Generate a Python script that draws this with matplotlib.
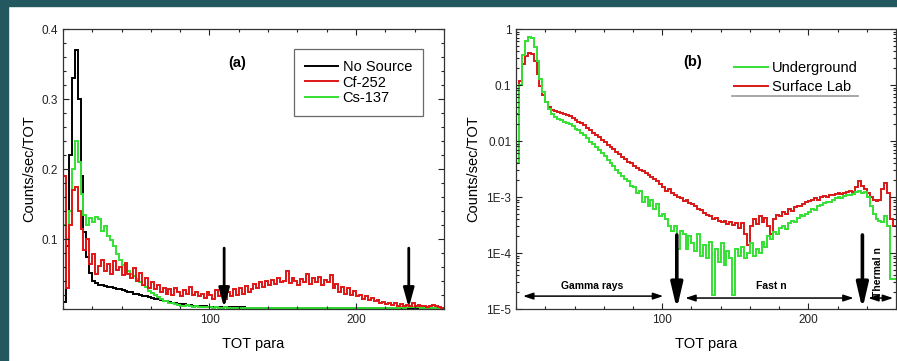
import numpy as np
import matplotlib
matplotlib.use("Agg")
import matplotlib.pyplot as plt
from matplotlib.patches import Rectangle
from matplotlib.ticker import MultipleLocator, FixedLocator, LogLocator, NullFormatter

plt.rcParams['font.family'] = ['Liberation Sans', 'DejaVu Sans']

# TOT bins, 2 units wide, 0..260
tot_edges = np.arange(0, 262, 2)

# panel (a): counts/sec/TOT
no_source = [
    0.01, 0.09, 0.22, 0.33, 0.37, 0.30, 0.19, 0.11, 0.075, 0.052,
    0.040, 0.037, 0.035, 0.034, 0.033, 0.032, 0.031, 0.030, 0.029, 0.028,
    0.027, 0.026, 0.025, 0.024, 0.022, 0.021, 0.020, 0.019, 0.018, 0.017,
    0.016, 0.015, 0.014, 0.013, 0.012, 0.011, 0.010, 0.0092, 0.0085, 0.0078,
    0.0072, 0.0066, 0.006, 0.0055, 0.005, 0.0046, 0.0042, 0.0039, 0.0036, 0.0033,
    0.0031, 0.003, 0.0029, 0.0028, 0.0027, 0.0026, 0.0025, 0.0024, 0.0024, 0.0023,
    0.0022, 0.0022, 0.0021, 0.0021, 0.002, 0.002, 0.0019, 0.0019, 0.0018, 0.0018,
    0.0017, 0.0017, 0.0016, 0.0016, 0.0016, 0.0015, 0.0015, 0.0015, 0.0014, 0.0014,
    0.0014, 0.0013, 0.0013, 0.0013, 0.0012, 0.0012, 0.0012, 0.0012, 0.0011, 0.0011,
    0.0011, 0.0011, 0.001, 0.001, 0.001, 0.001, 0.001, 0.001, 0.0009, 0.0009,
    0.0009, 0.0009, 0.0009, 0.0009, 0.0009, 0.0009, 0.0009, 0.0009, 0.0009, 0.0009,
    0.0008, 0.0008, 0.0008, 0.0008, 0.0008, 0.0008, 0.0008, 0.0008, 0.0008, 0.0008,
    0.0008, 0.0008, 0.0008, 0.0007, 0.0007, 0.0007, 0.0007, 0.0007, 0.0007, 0.0007,
]
cf252 = [
    0.19, 0.03, 0.12, 0.17, 0.175, 0.14, 0.115, 0.085, 0.10, 0.065,
    0.078, 0.05, 0.062, 0.07, 0.055, 0.065, 0.05, 0.068, 0.056, 0.06,
    0.048, 0.066, 0.05, 0.045, 0.058, 0.04, 0.052, 0.035, 0.045, 0.03,
    0.038, 0.028, 0.034, 0.024, 0.03, 0.022, 0.028, 0.02, 0.03, 0.024,
    0.018, 0.027, 0.021, 0.031, 0.02, 0.025, 0.018, 0.022, 0.016, 0.024,
    0.02, 0.015, 0.027, 0.018, 0.023, 0.014, 0.024, 0.019, 0.028, 0.02,
    0.03, 0.022, 0.033, 0.025, 0.028, 0.036, 0.03, 0.038, 0.032, 0.04,
    0.034, 0.042, 0.036, 0.044, 0.038, 0.04, 0.054, 0.037, 0.045, 0.04,
    0.035, 0.043, 0.038, 0.05, 0.036, 0.044, 0.039, 0.046, 0.035, 0.041,
    0.038, 0.049, 0.03, 0.036, 0.025, 0.032, 0.022, 0.03, 0.02, 0.026,
    0.018, 0.02, 0.015, 0.019, 0.013, 0.016, 0.011, 0.013, 0.009, 0.01,
    0.007, 0.009, 0.006, 0.008, 0.005, 0.007, 0.005, 0.006, 0.004, 0.009,
    0.005, 0.006, 0.004, 0.005, 0.003, 0.004, 0.006, 0.004, 0.003, 0.002,
]
cs137 = [
    0.12, 0.10, 0.14, 0.20, 0.24, 0.21, 0.165, 0.135, 0.12, 0.13,
    0.125, 0.132, 0.128, 0.112, 0.118, 0.104, 0.098, 0.09, 0.078, 0.07,
    0.063, 0.058, 0.055, 0.05, 0.047, 0.043, 0.038, 0.034, 0.031, 0.026,
    0.023, 0.02, 0.017, 0.015, 0.012, 0.011, 0.009, 0.008, 0.0065, 0.006,
    0.005, 0.0045, 0.0055, 0.004, 0.0035, 0.004, 0.003, 0.0035, 0.003, 0.0025,
    0.0022, 0.002, 0.0028, 0.002, 0.0018, 0.0022, 0.0016, 0.002, 0.0015, 0.0018,
    0.0014, 0.0017, 0.0013, 0.0015, 0.0012, 0.0016, 0.0013, 0.0014, 0.0011, 0.0014,
    0.0012, 0.0013, 0.0011, 0.0014, 0.0012, 0.0013, 0.001, 0.0012, 0.0011, 0.0013,
    0.0011, 0.0012, 0.001, 0.0013, 0.0011, 0.0012, 0.001, 0.0012, 0.0011, 0.0013,
    0.0012, 0.0013, 0.0011, 0.0014, 0.0012, 0.0013, 0.0012, 0.0014, 0.0013, 0.0015,
    0.0014, 0.0015, 0.0013, 0.0016, 0.0015, 0.0017, 0.0015, 0.0018, 0.0016, 0.0019,
    0.0018, 0.002, 0.0019, 0.0021, 0.002, 0.0022, 0.0021, 0.0023, 0.0022, 0.0024,
    0.0025, 0.0023, 0.0021, 0.0019, 0.0018, 0.0016, 0.0015, 0.0013, 0.0012, 0.001,
]

# panel (b): log scale
underground = [
    0.004, 0.1, 0.35, 0.6, 0.73, 0.68, 0.48, 0.27, 0.13, 0.075,
    0.05, 0.037, 0.031, 0.027, 0.025, 0.0235, 0.022, 0.021, 0.02, 0.0185,
    0.0165, 0.0155, 0.014, 0.0128, 0.0115, 0.0098, 0.0088, 0.0078, 0.0068, 0.006,
    0.0054, 0.0046, 0.004, 0.0036, 0.0031, 0.0027, 0.0024, 0.0021, 0.0019, 0.0016,
    1.5e-3, 1.2e-3, 1.3e-3, 8e-4, 1.0e-3, 7e-4, 9e-4, 6e-4, 7.5e-4, 4.5e-4,
    5e-4, 4e-4, 3e-4, 2.5e-4, 3e-4, 1.2e-4, 2.5e-4, 2.2e-4, 1.2e-4, 2e-4,
    1.5e-4, 1.1e-4, 2.2e-4, 9e-5, 1.4e-4, 8e-5, 1.6e-4, 1.8e-5, 1.2e-4, 7e-5,
    1.5e-4, 6e-5, 1.1e-4, 8e-5, 1.8e-5, 1.2e-4, 9e-5, 1.3e-4, 8e-5, 1.0e-4,
    1.5e-4, 9e-5, 1.2e-4, 1.0e-4, 1.6e-4, 1.3e-4, 2.0e-4, 1.8e-4, 2.4e-4, 2.2e-4,
    2.8e-4, 3.0e-4, 2.7e-4, 3.5e-4, 3.8e-4, 3.6e-4, 4.3e-4, 4.8e-4, 4.5e-4, 5.0e-4,
    5.5e-4, 6.0e-4, 5.8e-4, 6.8e-4, 7.2e-4, 7.8e-4, 8.2e-4, 8.0e-4, 9.0e-4, 9.5e-4,
    1.0e-3, 9.8e-4, 1.05e-3, 1.1e-3, 1.08e-3, 1.15e-3, 1.25e-3, 1.3e-3, 1.2e-3, 1.25e-3,
    1.0e-3, 7e-4, 5e-4, 4e-4, 3.8e-4, 3.6e-4, 4.5e-4, 3e-4, 3.5e-5, 3.5e-5,
]
surface_lab = [
    0.03, 0.12, 0.24, 0.33, 0.38, 0.36, 0.27, 0.16, 0.095, 0.065,
    0.05, 0.041, 0.036, 0.034, 0.033, 0.032, 0.031, 0.029, 0.028, 0.026,
    0.024, 0.022, 0.021, 0.019, 0.017, 0.016, 0.014, 0.013, 0.0118, 0.0105,
    0.0095, 0.0085, 0.0079, 0.0072, 0.0064, 0.0058, 0.0052, 0.0048, 0.0043, 0.004,
    0.0036, 0.0033, 0.0031, 0.0029, 0.0027, 0.0025, 0.0023, 0.0021, 0.0019, 0.0017,
    0.0015, 0.0013, 0.0014, 0.0012, 0.0011, 0.001, 0.00095, 0.00085, 0.0009, 0.00078,
    0.00075, 0.0007, 0.00062, 0.00058, 0.00052, 0.00048, 0.00045, 0.0004, 0.00042, 0.00037,
    0.00036, 0.00038, 0.00033, 0.00036, 0.00032, 0.00035, 0.00028, 0.00034, 0.00022, 0.00014,
    0.0003, 0.0004, 0.00033, 0.00045, 0.00036, 0.00042, 0.0003, 0.00022, 0.0004, 0.00048,
    0.00045, 0.00055, 0.0005, 0.0006, 0.00056, 0.00065, 0.0007, 0.00068, 0.00075, 0.0008,
    0.00085, 0.00088, 0.00095, 0.0009, 0.001, 0.00105, 0.001, 0.0011, 0.00108, 0.00115,
    0.0012, 0.00112, 0.0012, 0.00125, 0.0013, 0.00125, 0.0015, 0.0019, 0.0016, 0.0014,
    0.0012, 0.001, 0.0009, 0.00085, 0.0009, 0.0014, 0.0018, 0.0012, 0.0004, 0.0003,
]

# region markers (TOT para)
gamma_cut = 110
thermal_cut = 237
decade_labels = ['1E-5', '1E-4', '1E-3', '0.01', '0.1', '1']

RED = '#e01515'
GREEN = '#33e033'
TEAL = '#245861'

fig = plt.figure(figsize=(8.97, 3.61), dpi=100)
fig.patches.append(Rectangle((0, 0), 8 / 897, 1, transform=fig.transFigure,
                             color=TEAL, zorder=-1))
fig.patches.append(Rectangle((0, 1 - 6 / 361), 1, 6 / 361, transform=fig.transFigure,
                             color=TEAL, zorder=-1))

ax1 = fig.add_axes([0.0702, 0.144, 0.4247, 0.7756])
ax2 = fig.add_axes([0.5753, 0.144, 0.4236, 0.7756])

for ax in (ax1, ax2):
    for s in ax.spines.values():
        s.set_color('#333333')
        s.set_linewidth(0.9)
    ax.tick_params(which='both', direction='in', top=True, right=True,
                   labelsize=8.5, colors='#222222', width=0.8)
    ax.tick_params(which='major', length=4)
    ax.tick_params(which='minor', length=2.5)
    ax.set_xlim(0, 260)
    ax.xaxis.set_major_locator(FixedLocator([100, 200]))
    ax.xaxis.set_minor_locator(MultipleLocator(20))
    ax.set_xlabel('TOT para', fontsize=10.5, labelpad=8)
    ax.set_ylabel('Counts/sec/TOT', fontsize=10.5, labelpad=4)

# ---- (a)
ax1.stairs(no_source, tot_edges, color='black', lw=1.4, baseline=None, label='No Source')
ax1.stairs(cs137, tot_edges, color=GREEN, lw=1.4, baseline=None, label='Cs-137')
ax1.stairs(cf252, tot_edges, color=RED, lw=1.4, baseline=None, label='Cf-252')
ax1.set_ylim(0, 0.4)
ax1.yaxis.set_major_locator(FixedLocator([0.1, 0.2, 0.3, 0.4]))
ax1.yaxis.set_minor_locator(MultipleLocator(0.02))
h, l = ax1.get_legend_handles_labels()
order = [l.index('No Source'), l.index('Cf-252'), l.index('Cs-137')]
leg = ax1.legend([h[i] for i in order], [l[i] for i in order], loc='upper right',
                 bbox_to_anchor=(0.945, 0.929), fontsize=10.5, fancybox=False,
                 borderpad=0.75, handlelength=2.3, handletextpad=0.3,
                 labelspacing=0.12, borderaxespad=0)
leg.get_frame().set_edgecolor('#444444')
leg.get_frame().set_linewidth(0.9)
ax1.text(119, 0.351, '(a)', fontsize=10.5, fontweight='bold', ha='center', va='center')
for xc in (gamma_cut, thermal_cut - 1):
    ax1.annotate('', xy=(xc, 0.002), xytext=(xc, 0.087),
                 arrowprops=dict(arrowstyle='-|>,head_width=0.32,head_length=1.15',
                                 lw=2, color='black', shrinkA=0, shrinkB=0))

# ---- (b)
ax2.stairs(surface_lab, tot_edges, color='#d81818', lw=1.4, baseline=None, label='Surface Lab')
ax2.stairs(underground, tot_edges, color=GREEN, lw=1.4, baseline=None, label='Underground')
ax2.set_yscale('log')
ax2.set_ylim(1e-5, 1)
ax2.yaxis.set_major_locator(FixedLocator([1e-5, 1e-4, 1e-3, 1e-2, 1e-1, 1]))
ax2.set_yticklabels(decade_labels)
ax2.yaxis.set_minor_locator(LogLocator(base=10, subs=np.arange(2, 10), numticks=20))
ax2.yaxis.set_minor_formatter(NullFormatter())
h, l = ax2.get_legend_handles_labels()
ax2.legend(h[::-1], l[::-1], loc='upper right', bbox_to_anchor=(0.915, 0.905),
           fontsize=10.5, frameon=False, handlelength=2.3, handletextpad=0.3,
           labelspacing=0.32, borderaxespad=0)
ax2.plot([0.568, 0.9], [0.762, 0.762], transform=ax2.transAxes, color='#999999', lw=1.2)
ax2.text(120.5, 0.26, '(b)', fontsize=10.5, fontweight='bold', ha='center', va='center')

for xc in (gamma_cut, thermal_cut):
    ax2.annotate('', xy=(xc, 1.0e-5), xytext=(xc, 2.1e-4), annotation_clip=False,
                 arrowprops=dict(arrowstyle='-|>,head_width=0.35,head_length=1.5',
                                 lw=2.6, color='black', shrinkA=0, shrinkB=0))
spans = [(4.8, 100.7, 1.7e-5), (115.8, 231, 1.57e-5), (241, 258, 1.57e-5)]
for x0, x1, yy in spans:
    ax2.annotate('', xy=(x1, yy), xytext=(x0, yy), annotation_clip=False,
                 arrowprops=dict(arrowstyle='<|-|>,head_width=0.2,head_length=0.6',
                                 lw=1.1, color='black', shrinkA=0, shrinkB=0))
ax2.text(52, 2.6e-5, 'Gamma rays', fontsize=7.5, fontweight='bold', ha='center', va='center')
ax2.text(175, 2.6e-5, 'Fast n', fontsize=7.5, fontweight='bold', ha='center', va='center')
ax2.text(247.5, 4.6e-5, 'Thermal n', fontsize=7.5, fontweight='bold', ha='center',
         va='center', rotation=90)

fig.savefig('out.png', dpi=100, facecolor='white')
